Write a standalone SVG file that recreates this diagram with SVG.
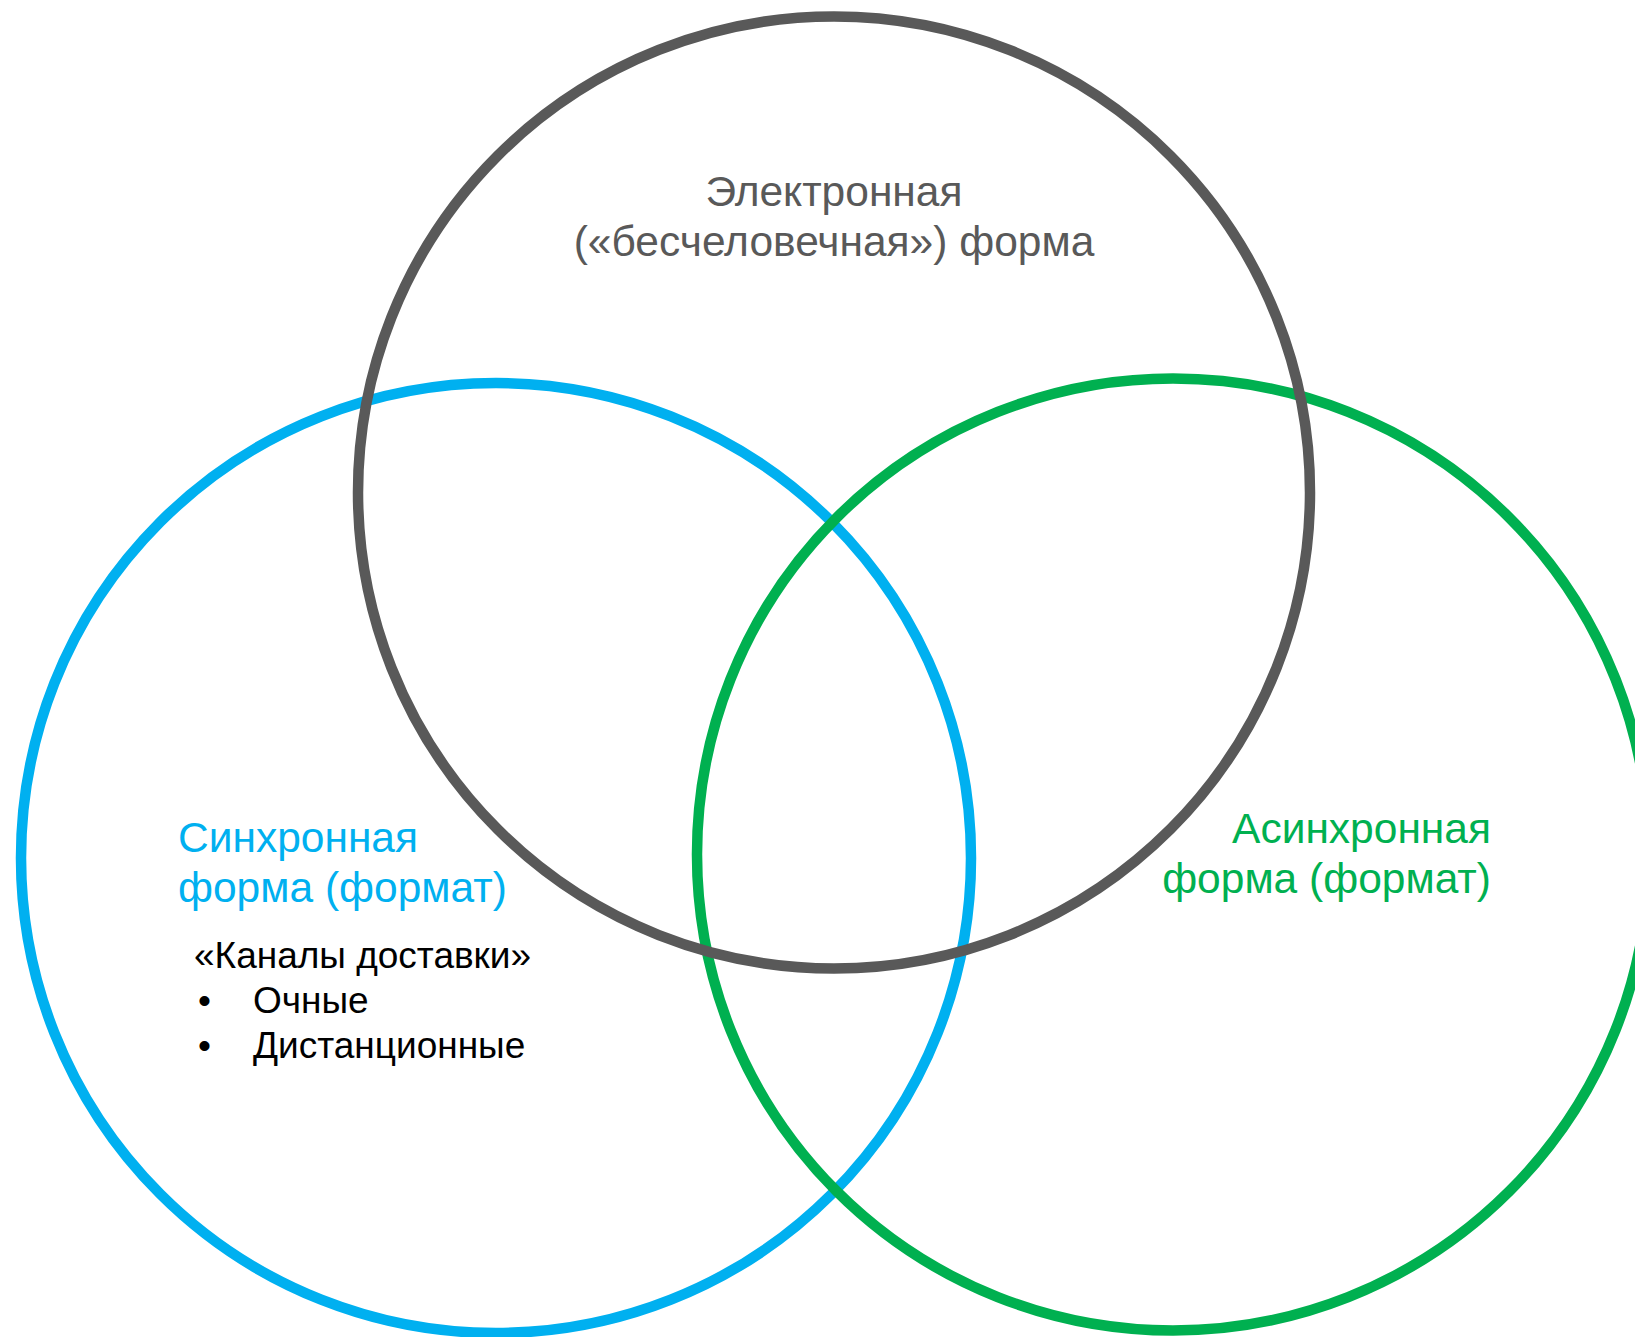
<svg xmlns="http://www.w3.org/2000/svg" width="1635" height="1337" viewBox="0 0 1635 1337">
<style>
.c{fill:none;stroke-width:10.5}
.t{font-family:"Liberation Sans",Arial,sans-serif;font-size:42.5px}
.b{font-family:"Liberation Sans",Arial,sans-serif;font-size:37px;fill:#000}
</style>
<rect width="1635" height="1337" fill="#fff"/>
<g id="sync">
<circle class="c" cx="496" cy="858" r="475" stroke="#00B0F0"/>
</g>
<g id="async">
<circle class="c" cx="1173" cy="854.5" r="476" stroke="#00B050"/>
</g>
<g id="electronic">
<circle class="c" cx="834" cy="492.5" r="476" stroke="#595959"/>
</g>
<g id="labels">
<text class="t" fill="#595959" text-anchor="middle" x="834" y="206">Электронная</text>
<text class="t" fill="#595959" text-anchor="middle" x="834" y="256">(«бесчеловечная») форма</text>
<text class="t" fill="#00B0F0" x="178" y="852">Синхронная</text>
<text class="t" fill="#00B0F0" x="178" y="902">форма (формат)</text>
<text class="t" fill="#00B050" text-anchor="end" x="1491" y="843">Асинхронная</text>
<text class="t" fill="#00B050" text-anchor="end" x="1491" y="893">форма (формат)</text>
<text class="b" x="194" y="968">«Каналы доставки»</text>
<text class="b" x="198" y="1013">•</text>
<text class="b" x="253" y="1013">Очные</text>
<text class="b" x="198" y="1058">•</text>
<text class="b" x="253" y="1058">Дистанционные</text>
</g>
<g id="connectors"/>
</svg>
